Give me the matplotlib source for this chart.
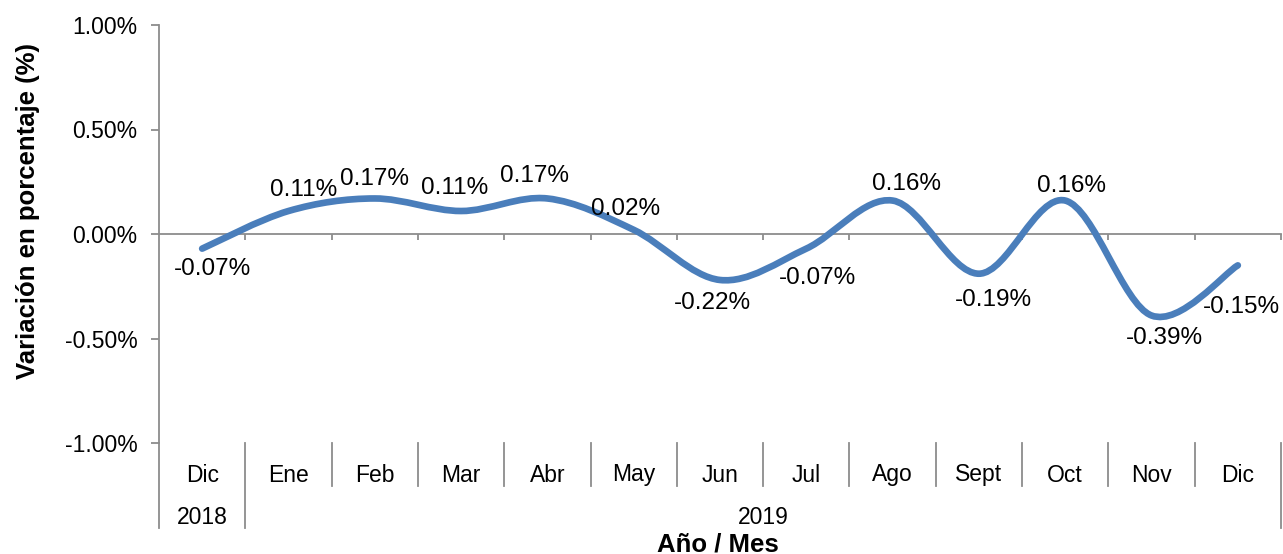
import numpy as np
import matplotlib
matplotlib.use("Agg")
from matplotlib import pyplot as plt
from matplotlib.path import Path
from matplotlib.patches import PathPatch
from matplotlib.lines import Line2D

plt.rcParams['font.family'] = ['Liberation Sans', 'DejaVu Sans']

meses = ["Dic", "Ene", "Feb", "Mar", "Abr", "May", "Jun", "Jul",
         "Ago", "Sept", "Oct", "Nov", "Dic"]
anios = ["2018", "2019"]
anio_inicio = [0, 1]          # primer mes de cada año
valores = [-0.07, 0.11, 0.17, 0.11, 0.17, 0.02, -0.22, -0.07,
           0.16, -0.19, 0.16, -0.39, -0.15]
etiquetas = ["-0.07%", "0.11%", "0.17%", "0.11%", "0.17%", "0.02%", "-0.22%",
             "-0.07%", "0.16%", "-0.19%", "0.16%", "-0.39%", "-0.15%"]
yticks = [-1.0, -0.5, 0.0, 0.5, 1.0]

# desplazamiento de cada etiqueta (pixeles, y hacia arriba)
offsets = [(10, -20), (15, 21), (0, 19), (-6, 23), (-13, 22), (-8, 21),
           (-8, -23), (11, -29), (14, 17), (15, -26), (6, 15), (13, -22),
           (4, -42)]

azul = "#4A7EBB"
gris = "#8C8C8C"

fig = plt.figure(figsize=(12.83, 5.54), dpi=100)
ax = fig.add_axes([159 / 1283, 1 - 443 / 554, 1122 / 1283, 418 / 554])

n = len(valores)
x = np.arange(n)
y = np.array(valores)

# curva suavizada (bezier tipo Excel)
px = np.concatenate([[x[0]], x, [x[-1]]])
py = np.concatenate([[y[0]], y, [y[-1]]])
verts = [(x[0], y[0])]
codes = [Path.MOVETO]
for i in range(1, n):
    p0 = np.array([px[i - 1], py[i - 1]])
    p1 = np.array([px[i], py[i]])
    p2 = np.array([px[i + 1], py[i + 1]])
    p3 = np.array([px[i + 2], py[i + 2]])
    c1 = p1 + (p2 - p0) / 6
    c2 = p2 - (p3 - p1) / 6
    verts += [tuple(c1), tuple(c2), tuple(p2)]
    codes += [Path.CURVE4] * 3
ax.add_patch(PathPatch(Path(verts, codes), facecolor="none", edgecolor=azul,
                       lw=4.8, capstyle="round", joinstyle="round", zorder=3))

for i in range(n):
    ax.annotate(etiquetas[i], (x[i], y[i]), xytext=offsets[i],
                textcoords="offset pixels", ha="center", va="center",
                fontsize=17.5, zorder=4)

ax.set_xlim(-0.5, n - 0.5)
ax.set_ylim(-1, 1)
ax.set_yticks(yticks)
ax.set_yticklabels(["%.2f%%" % v for v in yticks], fontsize=16.5)

for s in ["top", "right"]:
    ax.spines[s].set_visible(False)
ax.spines["left"].set_color(gris)
ax.spines["left"].set_linewidth(1.3)
ax.spines["bottom"].set_position(("data", 0))
ax.spines["bottom"].set_color(gris)
ax.spines["bottom"].set_linewidth(1.3)
ax.set_xticks(np.arange(n) + 0.5)
ax.tick_params(axis="x", direction="out", length=4, width=1.3, color=gris,
               labelbottom=False)
ax.tick_params(axis="y", direction="out", length=6, width=1.3, color=gris,
               pad=9.5)

# etiquetas de categorias de dos niveles
tr = ax.get_xaxis_transform()
h1 = 43 / 418
h2 = 85 / 418
ax.add_line(Line2D([-0.5, -0.5], [0, -h2], transform=tr, color=gris,
                   lw=1.3, clip_on=False))
for i in range(n):
    ax.text(x[i], -32 / 418, meses[i], transform=tr, ha="center",
            va="center", fontsize=16.5)
    if i > 0 and i not in anio_inicio:
        ax.add_line(Line2D([i - 0.5, i - 0.5], [0, -h1], transform=tr,
                           color=gris, lw=1.3, clip_on=False))
limites = anio_inicio + [n]
for k in range(len(anios)):
    a, b = limites[k], limites[k + 1]
    ax.text((a + b - 1) / 2, -74 / 418, anios[k], transform=tr, ha="center",
            va="center", fontsize=16.5)
    ax.add_line(Line2D([b - 0.5, b - 0.5], [0, -h2], transform=tr,
                       color=gris, lw=1.3, clip_on=False))

fig.text(718 / 1283, 1 - 544 / 554, "Año / Mes", ha="center", va="center",
         fontsize=18.5, fontweight="bold")
fig.text(28 / 1283, 1 - 211 / 554, "Variación en porcentaje (%)",
         rotation=90, ha="center", va="center", fontsize=18.5,
         fontweight="bold")

fig.savefig("out.png", dpi=100)
